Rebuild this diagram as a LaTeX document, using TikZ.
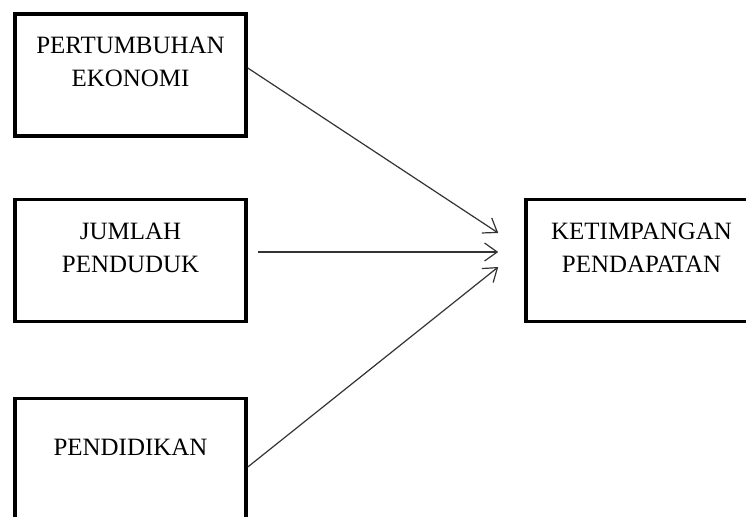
\documentclass[tikz,border=0pt]{standalone}
\usepackage{fontspec}
\setmainfont{Liberation Serif}
\usepackage{tikz}
\usetikzlibrary{arrows.meta}

\newcommand{\isi}[2][30pt]{\parbox[c][91.5pt][t]{172pt}{\centering\rule{0pt}{#1}#2}}

\begin{document}
\begin{tikzpicture}[x=0.75pt,y=-0.75pt,
  kotak/.style={draw, line width=2.9pt, inner sep=0pt, minimum width=173pt, minimum height=90.75pt,
    font=\fontsize{18.7}{24.75}\selectfont},
  panah/.style={draw=black!80, line width=0.9pt, -{Straight Barb[length=9.5pt,width=13.5pt]}}]
\useasboundingbox (0,0) rectangle (746,517);
\clip (0,0) rectangle (746,517);
\fill [white] (0,0) rectangle (746,517);
\node [kotak] (eko) at (130.5,75) {\isi{PERTUMBUHAN\\EKONOMI}};
\node [kotak] (pend) at (130.5,260.5) {\isi{JUMLAH\\PENDUDUK}};
\node [kotak] (pdk) at (130.5,459.5) {\isi[42.5pt]{PENDIDIKAN}};
\node [kotak] (ket) at (641.5,260.5) {\isi{KETIMPANGAN\\PENDAPATAN}};
\draw [panah] ([shift={(0,-7)}]eko.east) -- ([shift={(-26,-27.5)}]ket.west);
\draw [panah] ([shift={(10,-8.5)}]pend.east) -- ([shift={(-26,-8.5)}]ket.west);
\draw [panah] ([shift={(0,7.5)}]pdk.east) -- ([shift={(-26,6.5)}]ket.west);

\end{tikzpicture}
\end{document}
